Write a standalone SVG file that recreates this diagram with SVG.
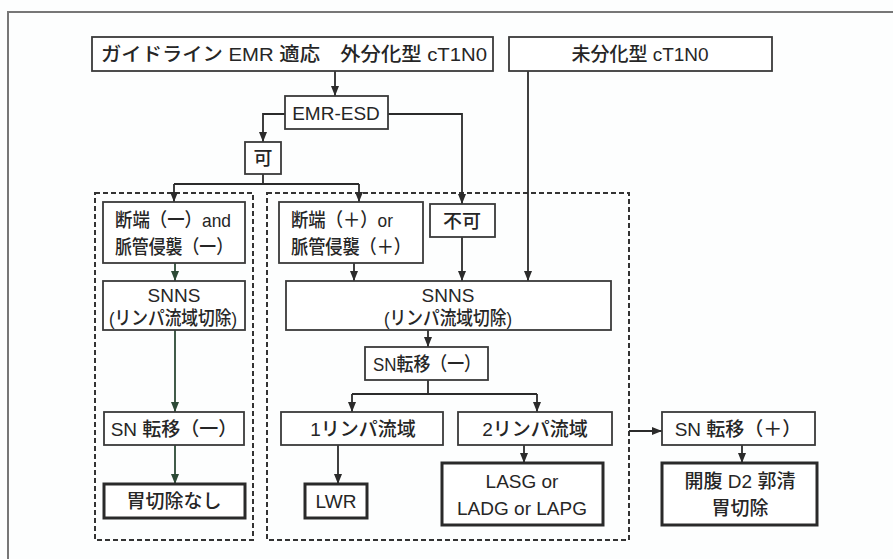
<svg xmlns="http://www.w3.org/2000/svg" width="893" height="559" viewBox="0 0 893 559">
<defs>
<marker id="ah" markerUnits="userSpaceOnUse" markerWidth="10" markerHeight="10" viewBox="0 0 10 10" refX="10" refY="5" orient="auto">
<path d="M0,1 L10,5 L0,9 Z" fill="#2b2b2b"/>
</marker>
<marker id="ahg" markerUnits="userSpaceOnUse" markerWidth="10" markerHeight="10" viewBox="0 0 10 10" refX="10" refY="5" orient="auto">
<path d="M0,1 L10,5 L0,9 Z" fill="#2d4a36"/>
</marker>
<style>
.box{fill:#fff;stroke:#3a3a3a;stroke-width:1.8}
.thick{fill:#fff;stroke:#2a2a2a;stroke-width:3}
.dash{fill:none;stroke:#333;stroke-width:2;stroke-dasharray:5 3}
.ln{fill:none;stroke:#2b2b2b;stroke-width:1.8}
.lng{fill:none;stroke:#2d4a36;stroke-width:1.8}
.t{font-family:"Liberation Sans","Noto Sans CJK JP",sans-serif;font-size:19px;fill:#262626;text-anchor:middle;font-weight:500}
.frame{fill:none;stroke:#777;stroke-width:2}
</style>
</defs>
<rect width="893" height="559" fill="#fdfefe"/>
<path class="frame" d="M8,559 L8,12 L893,12"/>

<g id="regions">
<rect class="dash" x="95" y="193" width="158" height="347"/>
<rect class="dash" x="267" y="193" width="362" height="347"/>
</g>

<g id="connectors">
<path class="ln" d="M335,71 V96" marker-end="url(#ah)"/>
<path class="ln" d="M285,114 H263 V142" marker-end="url(#ah)"/>
<path class="ln" d="M388,114 H462 V204" marker-end="url(#ah)"/>
<path class="ln" d="M263,174 V184 M174,184 H359"/>
<path class="ln" d="M174,184 V202" marker-end="url(#ah)"/>
<path class="ln" d="M359,184 V202" marker-end="url(#ah)"/>
<path class="ln" d="M528,71 V281" marker-end="url(#ah)"/>
<path class="ln" d="M462,237 V281" marker-end="url(#ah)"/>
<path class="ln" d="M354,263 V281" marker-end="url(#ah)"/>
<path class="lng" d="M175,263 V281" marker-end="url(#ahg)"/>
<path class="lng" d="M175,330 V412" marker-end="url(#ahg)"/>
<path class="lng" d="M175,445 V484" marker-end="url(#ahg)"/>
<path class="ln" d="M428,330 V347" marker-end="url(#ah)"/>
<path class="ln" d="M428,380 V394 M352,394 H537"/>
<path class="ln" d="M352,394 V412" marker-end="url(#ah)"/>
<path class="ln" d="M537,394 V412" marker-end="url(#ah)"/>
<path class="ln" d="M338,445 V484" marker-end="url(#ah)"/>
<path class="ln" d="M524,445 V463" marker-end="url(#ah)"/>
<path class="ln" d="M629,431 H662" marker-end="url(#ah)"/>
<path class="ln" d="M742,445 V463" marker-end="url(#ah)"/>
</g>

<g id="n-guideline">
<rect class="box" x="92" y="37" width="401" height="34"/>
<text class="t" x="294" y="61" font-size="20" textLength="386" lengthAdjust="spacingAndGlyphs">ガイドライン EMR 適応　外分化型 cT1N0</text>
</g>
<g id="n-undiff">
<rect class="box" x="509" y="37" width="263" height="34"/>
<text class="t" x="640" y="61" font-size="20">未分化型 cT1N0</text>
</g>
<g id="n-emresd">
<rect class="box" x="285" y="96" width="103" height="33"/>
<text class="t" x="336" y="120" font-size="20">EMR-ESD</text>
</g>
<g id="n-ka">
<rect class="box" x="245" y="142" width="36" height="32"/>
<text class="t" x="263" y="165">可</text>
</g>
<g id="n-neg">
<rect class="box" x="103" y="202" width="142" height="61"/>
<text class="t" x="173" y="227" textLength="116" lengthAdjust="spacingAndGlyphs">断端（一）and</text>
<text class="t" x="174" y="254" textLength="118" lengthAdjust="spacingAndGlyphs">脈管侵襲（一）</text>
</g>
<g id="n-snns-l">
<rect class="box" x="103" y="281" width="142" height="49"/>
<text class="t" x="174" y="302">SNNS</text>
<text class="t" x="173" y="325" textLength="128" lengthAdjust="spacingAndGlyphs">(リンパ流域切除)</text>
</g>
<g id="n-sn-neg-l">
<rect class="box" x="104" y="412" width="140" height="33"/>
<text class="t" x="174" y="436">SN 転移（一）</text>
</g>
<g id="n-nogast">
<rect class="thick" x="104" y="484" width="141" height="34"/>
<text class="t" x="174" y="508">胃切除なし</text>
</g>
<g id="n-pos">
<rect class="box" x="279" y="202" width="144" height="61"/>
<text class="t" x="342" y="227" textLength="102" lengthAdjust="spacingAndGlyphs">断端（＋）or</text>
<text class="t" x="351" y="254" textLength="120" lengthAdjust="spacingAndGlyphs">脈管侵襲（＋）</text>
</g>
<g id="n-fuka">
<rect class="box" x="430" y="204" width="65" height="33"/>
<text class="t" x="462" y="228">不可</text>
</g>
<g id="n-snns-r">
<rect class="box" x="286" y="281" width="325" height="49"/>
<text class="t" x="448" y="302">SNNS</text>
<text class="t" x="448" y="325" textLength="128" lengthAdjust="spacingAndGlyphs">(リンパ流域切除)</text>
</g>
<g id="n-sn-neg-r">
<rect class="box" x="365" y="347" width="123" height="33"/>
<text class="t" x="427" y="371" textLength="108" lengthAdjust="spacingAndGlyphs">SN転移（一）</text>
</g>
<g id="n-1lymph">
<rect class="box" x="281" y="412" width="162" height="33"/>
<text class="t" x="363" y="436">1リンパ流域</text>
</g>
<g id="n-2lymph">
<rect class="box" x="458" y="412" width="154" height="33"/>
<text class="t" x="535" y="436">2リンパ流域</text>
</g>
<g id="n-lwr">
<rect class="thick" x="305" y="484" width="62" height="34"/>
<text class="t" x="336" y="508">LWR</text>
</g>
<g id="n-lasg">
<rect class="thick" x="442" y="463" width="161" height="62"/>
<text class="t" x="522" y="488">LASG or</text>
<text class="t" x="522" y="515">LADG or LAPG</text>
</g>
<g id="n-sn-pos">
<rect class="box" x="662" y="412" width="153" height="33"/>
<text class="t" x="738" y="436">SN 転移（＋）</text>
</g>
<g id="n-open">
<rect class="thick" x="662" y="463" width="155" height="62"/>
<text class="t" x="740" y="488">開腹 D2 郭清</text>
<text class="t" x="740" y="515">胃切除</text>
</g>
</svg>
